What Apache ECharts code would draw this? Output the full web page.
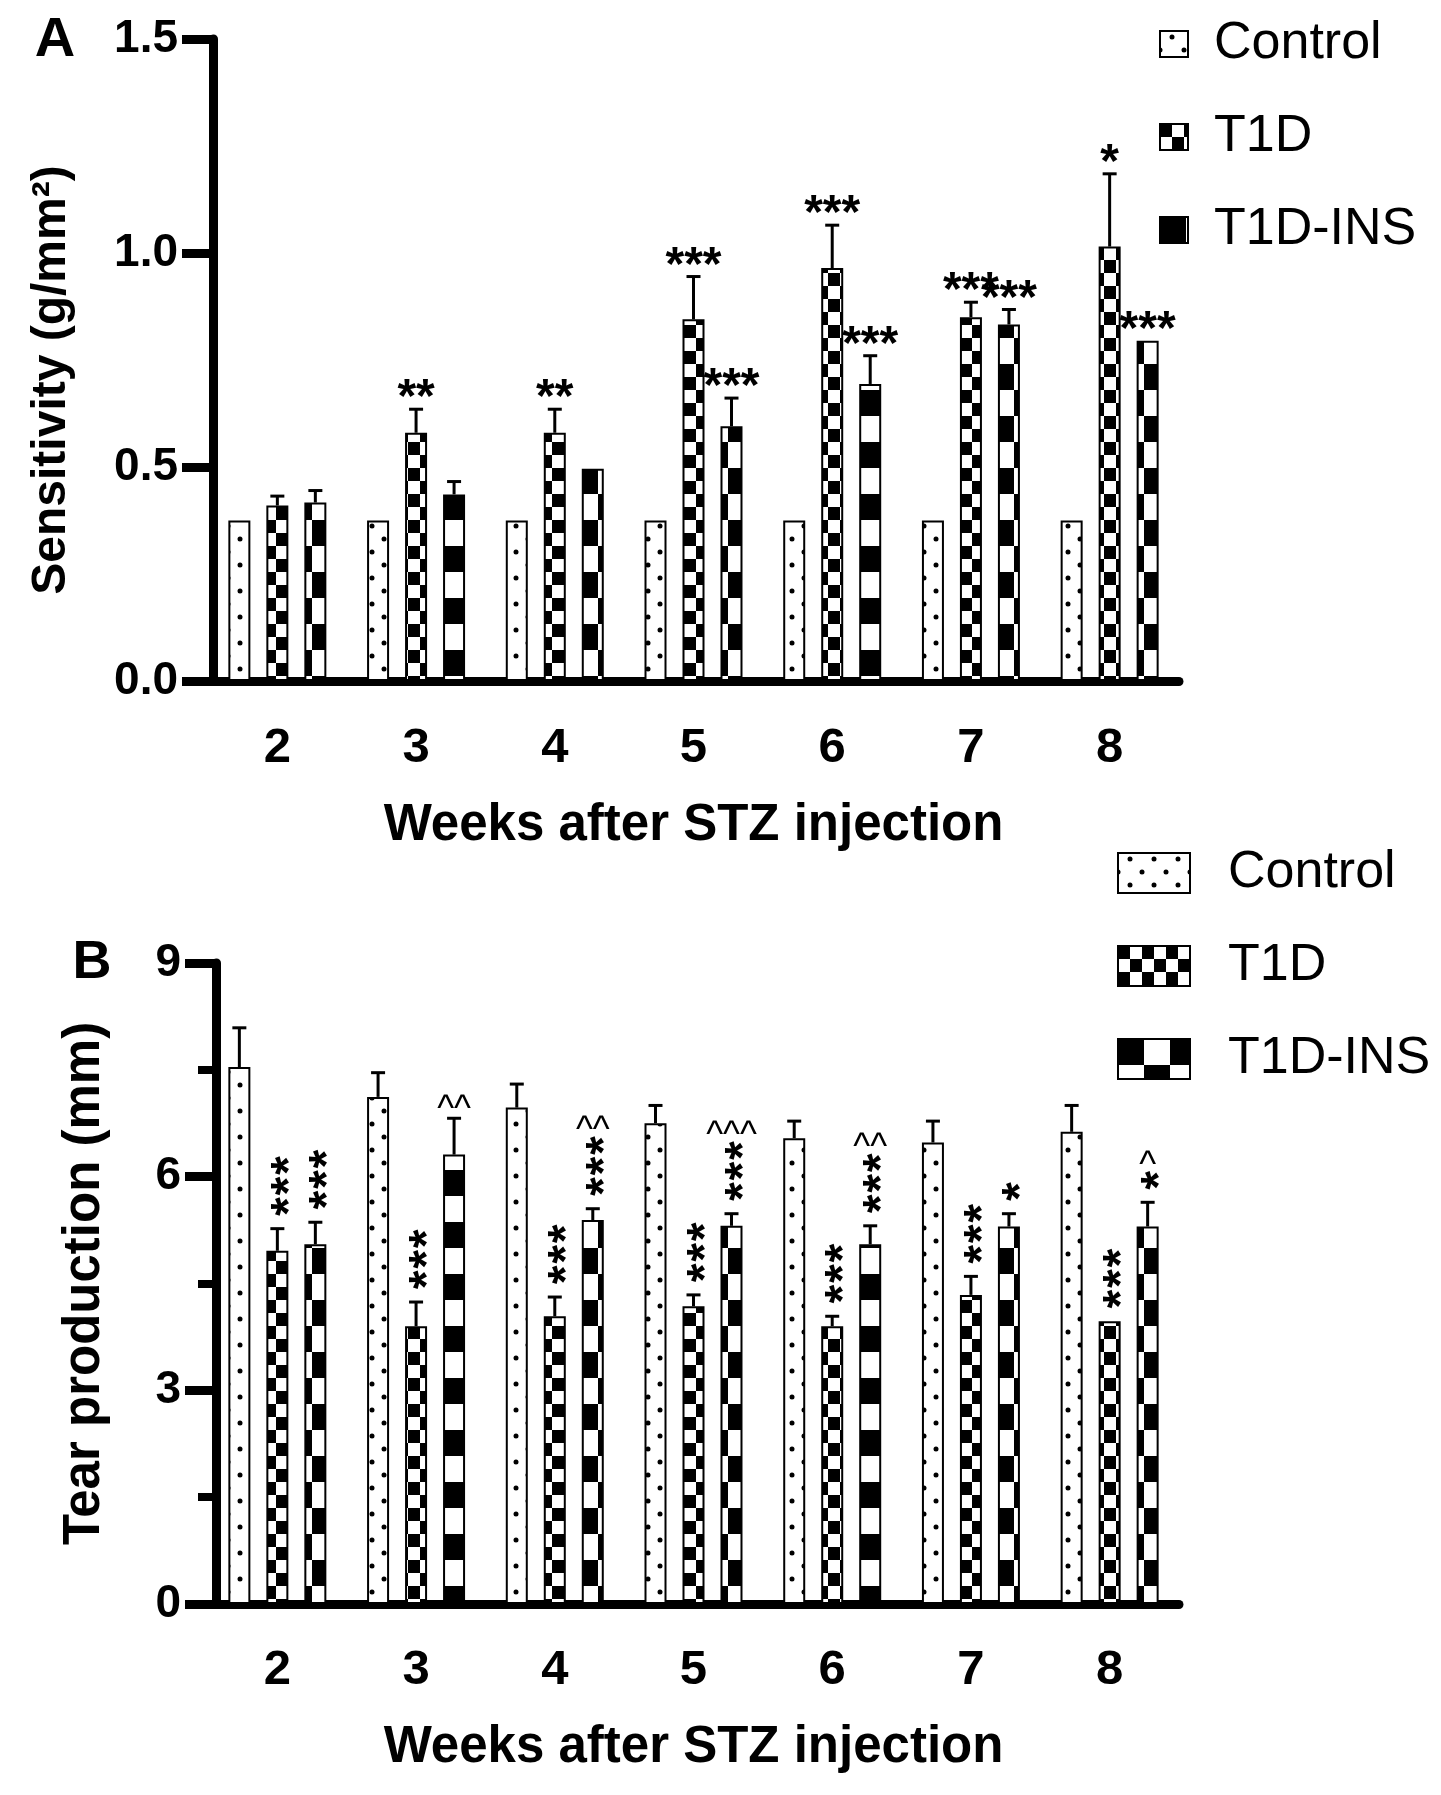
<!DOCTYPE html>
<html><head><meta charset="utf-8">
<script src="https://cdn.jsdelivr.net/npm/echarts@6/dist/echarts.min.js"></script>
<style>html,body{margin:0;padding:0;background:#fff}#c{width:1441px;height:1795px}</style>
</head><body><div id="c"></div>
<script>
// ---------- data ----------
const weeks = ['2', '3', '4', '5', '6', '7', '8'];
const groups = ['Control', 'T1D', 'T1D-INS'];

// Panel A: corneal sensitivity (g/mm²)
const sensControl    = [0.375, 0.375, 0.375, 0.375, 0.375, 0.375, 0.375];
const sensControlErr = [0, 0, 0, 0, 0, 0, 0];
const sensT1D        = [0.41, 0.58, 0.58, 0.845, 0.965, 0.85, 1.015];
const sensT1DErr     = [0.022, 0.055, 0.055, 0.10, 0.10, 0.035, 0.17];
const sensIns        = [0.417, 0.436, 0.496, 0.595, 0.694, 0.833, 0.795];
const sensInsErr     = [0.028, 0.03, 0, 0.066, 0.066, 0.035, 0];
const sensT1DStars   = ['', '**', '**', '***', '***', '***', '*'];
const sensInsStars   = ['', '', '', '***', '***', '***', '***'];

// Panel B: tear production (mm)
const tearControl    = [7.54, 7.12, 6.97, 6.75, 6.54, 6.48, 6.63];
const tearControlErr = [0.55, 0.34, 0.33, 0.25, 0.24, 0.30, 0.37];
const tearT1D        = [4.96, 3.90, 4.04, 4.18, 3.90, 4.34, 3.97];
const tearT1DErr     = [0.31, 0.34, 0.27, 0.16, 0.14, 0.26, 0];
const tearIns        = [5.05, 6.31, 5.39, 5.31, 5.05, 5.30, 5.30];
const tearInsErr     = [0.31, 0.51, 0.16, 0.17, 0.26, 0.18, 0.34];
const tearT1DStars   = ['***', '***', '***', '***', '***', '***', '***'];
const tearInsStars   = ['***', '', '***', '***', '***', '*', '*'];
const tearInsCarets  = ['', '^^', '^^', '^^^', '^^', '', '^'];

const sensTicks = [0, 1.5, 0.5];   // min, max, interval
const tearTicks = [0, 9, 3];

// ---------- styling helpers ----------
const FONT = '"Liberation Sans", Arial, Helvetica, sans-serif';
const PITCH = 38;

function pattern(kind) {
  const c = document.createElement('canvas');
  const ctx = c.getContext('2d');
  if (kind === 'dots') {
    c.width = 24; c.height = 26;
    ctx.fillStyle = '#fff'; ctx.fillRect(0, 0, 24, 26);
    ctx.fillStyle = '#000';
    [[12, 6], [0, 19], [24, 19]].forEach(p => { ctx.beginPath(); ctx.arc(p[0], p[1], 2.5, 0, Math.PI * 2); ctx.fill(); });
  } else if (kind === 'small') {
    c.width = 24; c.height = 26;
    ctx.fillStyle = '#fff'; ctx.fillRect(0, 0, 24, 26);
    ctx.fillStyle = '#000';
    ctx.fillRect(0, 0, 12, 13); ctx.fillRect(12, 13, 12, 13);
  } else {
    c.width = 52; c.height = 52;
    ctx.fillStyle = '#fff'; ctx.fillRect(0, 0, 52, 52);
    ctx.fillStyle = '#000';
    ctx.fillRect(0, 0, 26, 26); ctx.fillRect(26, 26, 26, 26);
  }
  return { image: c, repeat: 'repeat' };
}
const fills = [pattern('dots'), pattern('small'), pattern('large')];

function barSeries(name, g, grid, data) {
  return {
    type: 'bar', name: name, xAxisIndex: grid, yAxisIndex: grid, data: data,
    barWidth: 22, barGap: '72.7%',
    itemStyle: { color: fills[g], borderColor: '#000', borderWidth: 2 },
    emphasis: { disabled: true }, animation: false
  };
}

function textEl(str, x, y, font, rot, dy) {
  return { type: 'text', x: x, y: y, rotation: rot || 0,
    style: { text: str, x: 0, y: dy || 0, font: font, fill: '#000', align: 'center', verticalAlign: 'middle' } };
}

const STAR_FONT = 'bold 48px ' + FONT;
const CARET_FONT = '36px ' + FONT;

// mode 'h' : horizontal star string above error bar; 'v' : stacked stars (+ carets)
function errSeries(g, grid, vals, errs, stars, carets, mode) {
  return {
    type: 'custom', xAxisIndex: grid, yAxisIndex: grid, animation: false, silent: true,
    encode: { x: 0, y: 1 },
    data: vals.map((v, i) => [i, v, errs[i]]),
    renderItem: function (params, api) {
      const i = params.dataIndex;
      const v = api.value(1), e = api.value(2);
      const base = api.coord([api.value(0), v]);
      const top = api.coord([api.value(0), v + e]);
      const x = base[0] + (g - 1) * PITCH;
      const ch = [];
      if (e > 0) {
        ch.push({ type: 'line', shape: { x1: x, y1: base[1], x2: x, y2: top[1] }, style: { stroke: '#000', lineWidth: 3 } });
        ch.push({ type: 'line', shape: { x1: x - 7, y1: top[1], x2: x + 7, y2: top[1] }, style: { stroke: '#000', lineWidth: 3 } });
      }
      const s = stars ? stars[i] : '';
      const c = carets ? carets[i] : '';
      if (mode === 'h') {
        if (s) ch.push(textEl(s, x, top[1] - 23, STAR_FONT, 0, 13));
      } else {
        let yc = top[1] - 22;
        let last = null;
        for (let k = 0; k < s.length; k++) {
          ch.push(textEl('*', x, yc, STAR_FONT, Math.PI / 2, 13));
          last = yc; yc -= 20.5;
        }
        if (c) {
          const cc = last === null ? top[1] - 16 : last - 22;
          ch.push(textEl(c, x, cc, CARET_FONT, 0, 7.5));
        }
      }
      return { type: 'group', children: ch };
    }
  };
}

function xAxis(grid, margin, nameGap) {
  return {
    type: 'category', gridIndex: grid, data: weeks,
    axisLine: { lineStyle: { color: '#000', width: 9 } },
    axisTick: { alignWithLabel: true, length: 32, lineStyle: { color: '#000', width: 9 } },
    axisLabel: { interval: 0, fontSize: 49, lineHeight: 49, fontWeight: 'bold', color: '#000', fontFamily: FONT, margin: margin },
    name: 'Weeks after STZ injection', nameLocation: 'middle', nameGap: nameGap,
    nameTextStyle: { fontSize: 51, lineHeight: 51, fontWeight: 'bold', color: '#000', fontFamily: FONT }
  };
}

function yAxis(grid, ticks, name, nameGap, offset, fmt, minor, nameSize, namePad) {
  return {
    type: 'value', gridIndex: grid, min: ticks[0], max: ticks[1], interval: ticks[2], offset: offset,
    axisLine: { show: true, lineStyle: { color: '#000', width: 9 } },
    axisTick: { show: true, length: 31, lineStyle: { color: '#000', width: 9 } },
    minorTick: { show: !!minor, splitNumber: 2, length: 18, lineStyle: { color: '#000', width: 8 } },
    splitLine: { show: false },
    axisLabel: { fontSize: 46, fontWeight: 'bold', color: '#000', fontFamily: FONT, margin: 35, formatter: fmt },
    name: name, nameLocation: 'middle', nameGap: nameGap,
    nameTextStyle: { fontSize: nameSize, lineHeight: nameSize, fontWeight: 'bold', color: '#000', fontFamily: FONT, padding: namePad }
  };
}

function legend(left, top, w, h, gap, pad) {
  return {
    data: groups, orient: 'vertical', left: left, top: top, itemWidth: w, itemHeight: h, itemGap: gap,
    icon: 'rect', selectedMode: false, padding: 0,
    textStyle: { fontSize: 52, lineHeight: 52, color: '#000', fontFamily: FONT, padding: [0, 0, 0, pad] }
  };
}

const chart = echarts.init(document.getElementById('c'), null, { renderer: 'canvas' });
chart.setOption({
  animation: false,
  backgroundColor: '#fff',
  textStyle: { fontFamily: FONT },
  grid: [
    { left: 208, top: 39, width: 971, height: 642 },
    { left: 208, top: 963, width: 971, height: 641 }
  ],
  xAxis: [xAxis(0, 43, 119), xAxis(1, 42, 118)],
  yAxis: [
    yAxis(0, sensTicks, 'Sensitivity (g/mm²)', 137, -5, v => v.toFixed(1), false, 48, [0, 40, 0, 0]),
    yAxis(1, tearTicks, 'Tear production (mm)', 106, -8, v => String(v), true, 51, 0)
  ],
  legend: [legend(1159, 18, 28, 26, 41, 21), legend(1117, 847, 72, 40, 41, 33)],
  graphic: [
    textEl('A', 55, 41, 'bold 56px ' + FONT, 0, 0),
    textEl('B', 92, 963, 'bold 54px ' + FONT, 0, 0)
  ],
  series: [
    barSeries('Control', 0, 0, sensControl),
    barSeries('T1D', 1, 0, sensT1D),
    barSeries('T1D-INS', 2, 0, sensIns),
    errSeries(0, 0, sensControl, sensControlErr, null, null, 'h'),
    errSeries(1, 0, sensT1D, sensT1DErr, sensT1DStars, null, 'h'),
    errSeries(2, 0, sensIns, sensInsErr, sensInsStars, null, 'h'),
    barSeries('Control', 0, 1, tearControl),
    barSeries('T1D', 1, 1, tearT1D),
    barSeries('T1D-INS', 2, 1, tearIns),
    errSeries(0, 1, tearControl, tearControlErr, null, null, 'v'),
    errSeries(1, 1, tearT1D, tearT1DErr, tearT1DStars, null, 'v'),
    errSeries(2, 1, tearIns, tearInsErr, tearInsStars, tearInsCarets, 'v')
  ]
});
</script></body></html>
